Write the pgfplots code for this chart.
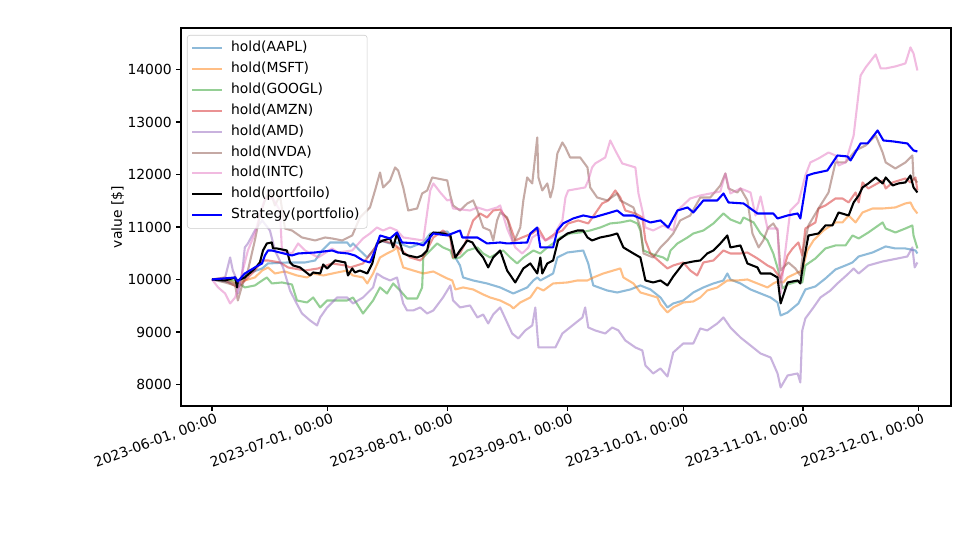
\documentclass[border=0pt]{standalone}
\usepackage{fontspec}
\setmainfont{DejaVu Sans}
\usepackage{pgfplots}
\pgfplotsset{compat=1.18}
\definecolor{cA}{HTML}{1F77B4}
\definecolor{cB}{HTML}{FF7F0E}
\definecolor{cC}{HTML}{2CA02C}
\definecolor{cD}{HTML}{D62728}
\definecolor{cE}{HTML}{9467BD}
\definecolor{cF}{HTML}{8C564B}
\definecolor{cG}{HTML}{E377C2}
\begin{document}
\fontsize{10}{12}\selectfont
\begin{tikzpicture}
\begin{axis}[
  name=ax,
  scale only axis, width=554.4pt, height=272.16pt,
  xmin=-8.02, xmax=191.3, ymin=7590, ymax=14790,
  axis line style={line width=0.8pt},
  tick style={line width=0.8pt, black},
  major tick length=3.5pt, tick align=outside,
  xtick pos=bottom, ytick pos=left,
  xtick={0,30,61,92,122,153,183},
  xticklabels={{2023-06-01, 00:00},{2023-07-01, 00:00},{2023-08-01, 00:00},{2023-09-01, 00:00},{2023-10-01, 00:00},{2023-11-01, 00:00},{2023-12-01, 00:00}},
  xticklabel style={rotate=20, anchor=north east, inner sep=1pt, xshift=2.5pt, yshift=-1pt},
  ytick={8000,9000,10000,11000,12000,13000,14000},
  scaled y ticks=false,
  yticklabel style={inner sep=1pt, xshift=-2pt, /pgf/number format/fixed, /pgf/number format/precision=0},
  /pgf/number format/1000 sep={},
  /pgf/number format/assume math mode=true,
  ylabel={value [\$]},
  ylabel style={yshift=-2pt},
  every axis plot/.append style={line width=1.5pt, line join=round},
  legend cell align=left,
  legend image code/.code={\draw[#1] (0pt,0pt) -- (21.6pt,0pt); \path (24.6pt,0pt);},
  legend style={at={(0,1)}, anchor=north west, xshift=4.3pt, yshift=-5pt,
    draw=black!20, fill=white, fill opacity=0.8, text opacity=1, draw opacity=1,
    rounded corners=2pt, row sep=0pt, inner xsep=3pt, inner ysep=2pt,
    nodes={inner sep=2.5pt, text height=7.5pt, text depth=2.5pt}},
]
% AAPL
\addplot[cA, opacity=0.5] coordinates {(0,10000)(6.7,9924)(9.3,10114)(13.0,10210)(14.5,10305)(19.7,10324)(24.1,10324)(26.7,10362)(28.5,10552)(30.6,10705)(35.0,10705)(35.8,10629)(36.5,10686)(38.3,10552)(40.2,10419)(41.7,10552)(43.5,10743)(46.1,10686)(47.9,10705)(51.3,10610)(54.7,10705)(56.5,10876)(60.9,10914)(61.7,10838)(62.4,10495)(64.2,10267)(65.0,10038)(67.6,9981)(71.2,9924)(74.6,9848)(78.0,9733)(81.6,9848)(83.2,9981)(84.2,10038)(85.0,9981)(88.3,10114)(89.4,10419)(92.0,10514)(96.1,10552)(97.4,10305)(98.7,9886)(102.3,9790)(104.9,9752)(108.3,9810)(110.9,9886)(113.5,9810)(116.1,9657)(117.9,9467)(119.4,9543)(122.0,9600)(124.6,9752)(127.2,9848)(129.8,9924)(132.4,9981)(133.4,10114)(134.2,10000)(136.8,9924)(139.4,9810)(142.0,9733)(144.6,9657)(146.4,9562)(147.2,9314)(149.0,9371)(151.8,9543)(153.6,9810)(156.2,9867)(158.8,10019)(161.4,10191)(164.0,10267)(165.8,10324)(167.4,10438)(171.0,10514)(174.4,10629)(176.9,10591)(179.5,10591)(182.1,10552)(182.6,10495)};
\addlegendentry{hold(AAPL)}
% MSFT
\addplot[cB, opacity=0.5] coordinates {(0,10000)(3.4,10038)(6.0,9924)(8.5,9981)(11.1,10038)(13.0,10171)(14.5,10229)(16.3,10114)(18.9,10152)(22.0,10076)(24.6,10038)(26.2,10114)(28.8,10076)(32.4,10133)(35.0,10171)(36.5,10076)(39.1,10038)(40.2,9924)(41.7,10114)(43.5,10419)(45.3,10495)(46.9,10552)(47.9,10610)(48.7,10419)(49.5,10229)(52.1,10171)(54.7,10114)(57.3,10152)(60.9,10019)(62.2,9981)(63.0,9810)(65.0,9848)(67.6,9810)(70.2,9714)(72.0,9657)(74.6,9600)(77.2,9505)(78.0,9448)(79.8,9562)(82.4,9657)(84.2,9848)(85.8,9790)(88.3,9924)(92.0,9943)(94.6,9981)(97.2,9981)(98.7,10038)(101.3,10114)(103.9,10171)(105.7,10210)(106.5,10038)(109.1,9924)(110.9,9752)(112.7,9714)(115.3,9657)(116.1,9524)(117.9,9371)(119.4,9467)(122.0,9562)(124.6,9581)(126.4,9657)(128.2,9790)(130.8,9848)(133.4,9981)(136.0,9981)(138.6,10000)(141.2,9924)(143.8,9848)(145.3,9924)(146.4,9962)(147.9,9943)(149.0,10038)(151.6,10133)(152.8,10171)(154.1,10552)(155.7,10743)(158.3,10933)(161.4,11086)(163.2,11086)(164.8,11219)(166.6,11086)(168.4,11276)(171.0,11352)(173.6,11352)(176.9,11372)(179.5,11448)(180.8,11467)(181.6,11352)(182.6,11257)};
\addlegendentry{hold(MSFT)}
% GOOGL
\addplot[cC, opacity=0.5] coordinates {(0,10000)(6.0,9981)(8.5,9848)(11.1,9886)(13.0,9981)(14.2,10038)(15.5,9924)(18.1,9943)(20.7,9905)(22.0,9600)(24.6,9562)(26.2,9657)(28.0,9467)(29.8,9600)(35.0,9600)(36.5,9657)(39.1,9352)(41.7,9600)(43.5,9848)(45.3,9733)(46.9,9924)(48.7,9790)(50.5,9638)(53.1,9638)(54.4,9848)(54.7,10419)(56.5,10552)(58.3,10686)(59.8,10610)(61.7,10552)(62.4,10400)(64.2,10419)(66.1,10552)(68.7,10610)(70.2,10495)(72.0,10419)(73.8,10495)(75.4,10552)(77.2,10419)(79.0,10305)(80.6,10419)(83.2,10552)(85.0,10495)(86.8,10610)(88.3,10686)(90.2,10800)(92.7,10876)(95.3,10895)(97.9,10933)(100.5,10990)(103.1,11067)(105.7,11086)(108.3,11124)(110.1,11067)(110.9,10933)(111.7,10552)(114.2,10476)(116.8,10419)(117.9,10362)(118.7,10552)(120.5,10686)(123.1,10800)(124.6,10876)(127.2,10933)(129.8,11067)(132.4,11257)(134.2,11143)(136.8,11067)(137.6,11181)(140.2,11086)(142.0,10876)(143.8,10743)(145.3,10495)(146.6,10171)(147.7,9829)(149.0,9905)(151.6,9962)(152.8,9943)(153.6,10267)(156.2,10400)(158.8,10591)(161.4,10648)(164.0,10648)(165.8,10838)(167.4,10781)(169.9,10895)(173.6,11086)(174.4,10971)(176.9,10895)(179.5,10971)(181.3,11029)(181.6,10838)(182.6,10591)};
\addlegendentry{hold(GOOGL)}
% AMZN
\addplot[cD, opacity=0.5] coordinates {(0,10000)(3.4,9981)(6.7,9848)(9.3,10038)(11.1,10171)(13.0,10362)(14.5,10362)(17.6,10324)(19.7,10229)(24.1,10171)(27.5,10210)(31.1,10305)(34.5,10267)(35.8,10229)(39.1,10305)(41.7,10552)(43.5,10743)(46.9,10686)(51.3,10419)(53.9,10362)(54.7,10419)(57.3,10800)(59.8,10933)(61.7,10800)(62.4,10419)(64.2,10495)(65.5,10686)(67.6,11124)(69.4,11257)(71.2,11181)(72.8,11314)(74.6,11333)(76.7,11124)(78.5,10743)(80.3,10800)(82.9,10876)(84.5,10971)(86.3,10743)(88.9,10876)(90.7,10933)(92.2,11067)(94.8,11124)(97.4,11067)(99.2,11257)(101.0,11448)(102.6,11505)(104.4,11695)(105.7,11562)(107.0,11314)(109.6,11257)(111.4,11181)(112.2,10743)(113.5,10495)(116.1,10324)(117.9,10210)(119.4,10267)(122.0,10324)(123.8,10171)(125.6,10076)(127.2,10324)(129.8,10362)(132.4,10552)(134.2,10495)(136.8,10495)(138.6,10514)(141.2,10400)(143.8,10267)(145.3,10210)(147.2,10019)(149.0,10457)(150.3,10591)(151.8,10705)(152.8,10457)(153.6,10971)(156.2,11086)(157.0,11352)(158.8,11410)(161.4,11543)(163.2,11543)(164.8,11467)(166.6,11657)(167.4,11467)(168.4,11848)(169.9,11733)(173.6,11886)(174.4,11733)(176.2,11848)(179.5,11924)(180.8,11848)(182.1,11943)(182.6,11695)};
\addlegendentry{hold(AMZN)}
% AMD
\addplot[cE, opacity=0.5] coordinates {(0,10000)(3.4,10038)(4.7,10419)(5.4,10171)(6.5,9981)(6.7,9733)(7.8,10114)(8.5,10610)(9.3,10686)(11.1,10933)(13.0,11124)(15.0,10933)(16.3,10552)(18.4,10229)(20.2,9790)(21.5,9600)(23.3,9352)(25.4,9219)(27.2,9124)(28.0,9276)(29.8,9467)(32.4,9657)(35.0,9657)(36.5,9543)(39.1,9657)(41.7,9848)(42.7,10114)(44.3,10038)(46.1,9981)(47.9,10038)(49.5,9543)(50.5,9410)(52.1,9410)(53.9,9467)(55.7,9352)(57.3,9410)(59.8,9657)(61.7,9886)(62.4,9600)(64.2,9467)(66.8,9505)(68.7,9276)(70.2,9333)(71.5,9162)(72.8,9333)(74.6,9467)(76.4,9181)(77.7,8971)(79.3,8876)(81.1,9029)(82.9,9124)(83.7,9467)(84.5,8705)(86.3,8705)(88.9,8705)(90.7,8971)(93.3,9124)(95.9,9276)(96.6,9467)(97.4,9086)(99.2,9029)(101.8,8971)(103.6,9086)(105.2,9029)(107.0,8838)(109.6,8705)(111.4,8648)(112.2,8362)(114.2,8210)(116.1,8305)(117.9,8152)(119.4,8610)(122.0,8781)(124.6,8781)(126.4,9067)(128.2,9029)(130.8,9162)(132.4,9276)(134.2,9086)(136.8,8895)(139.4,8743)(142.0,8590)(144.6,8514)(146.4,8210)(147.2,7943)(149.0,8171)(151.6,8210)(152.3,8038)(152.8,9029)(153.6,9257)(155.7,9467)(157.5,9657)(160.1,9790)(161.9,9924)(164.5,10095)(166.1,10210)(167.4,10114)(169.9,10267)(173.6,10343)(177.5,10400)(180.0,10438)(181.3,10610)(181.9,10229)(182.6,10324)};
\addlegendentry{hold(AMD)}
% NVDA
\addplot[cF, opacity=0.5] coordinates {(0,10000)(3.4,9943)(6.0,9886)(6.7,9600)(7.8,9886)(9.3,10171)(11.1,10743)(12.4,11219)(13.7,11505)(15.0,11695)(16.3,11410)(17.6,11600)(18.9,10971)(20.7,10933)(23.3,10800)(26.7,10743)(29.3,10800)(31.1,10781)(33.7,10743)(36.3,10838)(38.3,11181)(40.9,11372)(42.2,11695)(43.5,12038)(44.3,11753)(46.1,11886)(47.4,12134)(48.2,12076)(49.5,11753)(50.8,11314)(53.1,11352)(54.4,11638)(55.7,11695)(57.0,11943)(58.3,11924)(60.9,11886)(61.7,11600)(62.4,11410)(64.2,11314)(66.1,11448)(67.6,11505)(68.7,11314)(70.2,10990)(72.0,10933)(72.8,10743)(73.8,11124)(74.6,11276)(76.4,11181)(78.0,10686)(79.8,10990)(80.6,11505)(81.6,11943)(82.9,11829)(84.2,12705)(84.5,11943)(85.5,11695)(86.8,11829)(87.6,11562)(88.3,11753)(89.4,12400)(90.7,12610)(91.5,12515)(92.7,12324)(95.3,12324)(97.2,12134)(97.9,11753)(99.7,11562)(102.3,11505)(104.9,11638)(105.7,11505)(109.1,11372)(110.9,10990)(111.7,10495)(114.2,10419)(116.1,10610)(117.9,10743)(119.4,10876)(121.2,11124)(123.8,11219)(126.4,11562)(129.0,11562)(131.6,11791)(132.9,12019)(133.7,11734)(136.0,11657)(136.8,11734)(138.6,11505)(139.9,10876)(141.5,10610)(142.7,10743)(144.0,10990)(145.3,11067)(146.4,10933)(147.2,10171)(147.9,10229)(149.2,10324)(151.0,10210)(152.3,10076)(153.1,10591)(154.4,11029)(157.0,11352)(159.6,11657)(161.4,12229)(164.0,12229)(166.6,12457)(169.2,12553)(171.8,12743)(173.6,12419)(174.4,12229)(176.9,12114)(179.5,12229)(181.3,12362)(181.6,11924)(182.6,11848)};
\addlegendentry{hold(NVDA)}
% INTC
\addplot[cG, opacity=0.5] coordinates {(0,10000)(1.6,9848)(3.4,9733)(4.7,9543)(6.0,9657)(7.3,9981)(9.3,10552)(11.1,10876)(12.4,11219)(13.7,11543)(15.8,11543)(17.6,11314)(18.1,10552)(20.7,10495)(22.3,10686)(24.1,10552)(27.5,10419)(31.1,10591)(32.6,10514)(36.3,10552)(39.1,10781)(40.9,10876)(42.7,10990)(44.3,10933)(46.1,10990)(47.9,10933)(49.5,10800)(51.3,10781)(54.7,10743)(56.5,11695)(57.3,11829)(59.1,11657)(60.9,11505)(61.7,11524)(62.4,11352)(66.8,11314)(68.7,11372)(71.2,11314)(73.8,11372)(74.6,11410)(76.4,10971)(78.5,10610)(80.3,10495)(81.9,10610)(82.9,10800)(84.5,10876)(86.3,10743)(88.1,10800)(90.7,11124)(91.5,11562)(92.2,11695)(96.6,11753)(97.4,11886)(98.4,12134)(99.2,12210)(101.8,12324)(103.1,12648)(104.4,12457)(106.2,12210)(109.6,12134)(110.4,11638)(111.4,11314)(112.2,10990)(114.2,10933)(116.8,11029)(119.4,10933)(120.5,11314)(123.8,11543)(126.4,11600)(129.0,11638)(131.6,11676)(132.9,12019)(134.2,11638)(136.8,11734)(139.4,11657)(140.7,11219)(142.0,11581)(143.8,10971)(146.4,10971)(147.2,9733)(147.9,10229)(149.7,11314)(151.8,11467)(153.6,11981)(154.9,12229)(157.0,12305)(159.6,12419)(161.4,12362)(162.2,12172)(164.0,12229)(166.1,12743)(167.1,13372)(167.9,13886)(169.2,14039)(171.8,14286)(173.1,14020)(174.4,14020)(176.9,14058)(179.5,14115)(180.8,14420)(181.6,14305)(182.6,13981)};
\addlegendentry{hold(INTC)}
% portfolio
\addplot[black] coordinates {(0,10000)(3.4,9981)(6.0,10038)(6.5,9848)(6.7,9981)(8.5,10038)(11.1,10210)(12.4,10324)(13.2,10552)(14.2,10686)(15.5,10705)(15.8,10591)(16.8,10591)(19.4,10552)(20.2,10324)(21.0,10267)(22.8,10229)(25.4,10076)(26.2,10133)(28.0,10114)(28.8,10286)(29.8,10210)(31.9,10362)(34.5,10324)(35.2,10076)(36.3,10210)(37.0,10133)(38.3,10171)(40.2,10114)(41.5,10305)(42.7,10686)(44.3,10743)(46.1,10781)(46.9,10610)(47.9,10876)(49.5,10495)(50.8,10457)(53.1,10419)(54.4,10457)(55.7,10552)(56.5,10838)(57.3,10895)(59.8,10876)(61.7,10838)(63.0,10419)(64.2,10552)(66.1,10743)(67.4,10705)(68.7,10552)(70.2,10419)(71.5,10229)(72.8,10419)(73.8,10495)(74.6,10552)(76.4,10171)(78.5,9943)(80.6,10210)(82.4,10305)(84.2,10114)(85.0,10419)(85.5,10114)(86.8,10305)(88.3,10362)(89.6,10743)(92.0,10876)(94.6,10933)(96.1,10933)(97.2,10800)(98.4,10743)(100.5,10800)(103.1,10838)(104.9,10876)(106.5,10610)(109.1,10495)(110.9,10419)(112.2,9981)(114.2,9943)(116.1,9981)(117.9,9886)(119.4,10057)(122.0,10305)(124.6,10343)(126.4,10362)(128.2,10495)(129.8,10552)(131.6,10686)(133.4,10838)(134.2,10610)(136.8,10648)(138.6,10305)(141.2,10229)(142.0,10114)(144.6,10114)(146.4,10038)(147.2,9543)(149.0,9943)(151.6,9981)(152.3,9924)(153.1,10324)(154.4,10838)(157.0,10876)(158.8,11029)(160.6,11029)(162.2,11276)(164.8,11219)(166.1,11467)(167.4,11600)(168.4,11753)(169.9,11829)(171.8,11943)(173.6,11829)(174.4,11943)(176.2,11791)(177.7,11829)(179.5,11848)(180.8,11981)(181.6,11753)(182.6,11657)};
\addlegendentry{hold(portfoilo)}
% Strategy
\addplot[blue] coordinates {(0,10000)(5.96,10038)(6.7,9962)(8.5,10114)(11.1,10229)(12.95,10305)(13.7,10457)(14.5,10552)(15.5,10552)(20.7,10457)(22.3,10495)(26.7,10514)(31.1,10552)(32.6,10514)(35.2,10495)(37.0,10457)(39.1,10362)(40.9,10324)(42.2,10552)(43.5,10838)(46.1,10781)(47.9,10895)(49.2,10705)(53.1,10686)(54.7,10648)(57.3,10876)(60.9,10838)(64.2,10933)(64.8,10800)(66.1,10800)(68.7,10800)(71.2,10686)(74.6,10705)(76.4,10686)(81.6,10705)(82.4,10876)(84.2,10990)(85.0,10610)(88.3,10610)(89.4,10933)(90.9,11067)(93.5,11162)(96.1,11219)(98.7,11181)(102.3,11257)(104.9,11314)(106.5,11219)(109.1,11219)(110.9,11162)(113.5,11086)(116.1,11124)(118.1,10990)(120.5,11314)(123.1,11372)(124.6,11276)(127.2,11505)(130.8,11505)(132.4,11638)(133.7,11467)(137.6,11448)(141.2,11257)(145.3,11257)(146.4,11162)(149.0,11219)(151.6,11257)(152.3,11162)(154.1,11981)(155.7,12019)(159.3,12076)(161.9,12362)(164.5,12343)(165.3,12267)(167.9,12591)(169.7,12591)(172.3,12838)(173.8,12648)(176.4,12629)(180.0,12591)(181.6,12457)(182.6,12438)};
\addlegendentry{Strategy(portfolio)}
\end{axis}
\path ([shift={(-130.32pt,-110.88pt)}]ax.south west) rectangle ([shift={(17.28pt,20.16pt)}]ax.north east);
\end{tikzpicture}
\end{document}
